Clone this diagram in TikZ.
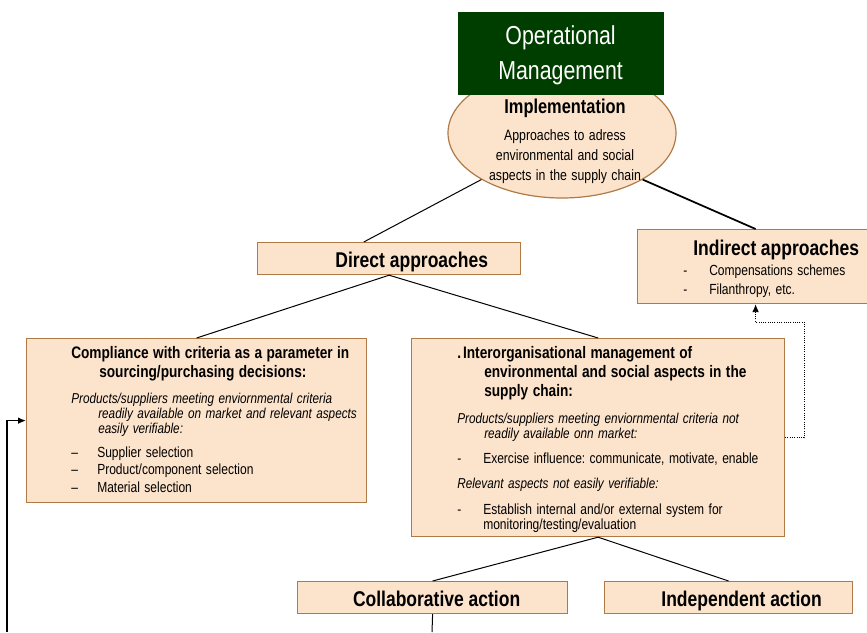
\documentclass[tikz,border=0pt]{standalone}
\usepackage{fontspec}
\setmainfont{Liberation Sans}[FakeStretch=0.82]
\usetikzlibrary{arrows.meta,positioning,shapes.geometric}
\definecolor{peachfill}{RGB}{252,227,203}
\definecolor{peachline}{RGB}{176,122,70}
\definecolor{mgmtgreen}{RGB}{0,62,0}
\newcommand\headfont{\fontsize{12.5}{14.25}\selectfont\bfseries}
\newcommand\italfont{\fontsize{10.75}{11.25}\selectfont\itshape}
\newcommand\itemfont{\fontsize{11}{13}\selectfont}
\newcommand\dashitem[1]{\makebox[19.5pt][l]{#1}}
\frenchspacing
\begin{document}
\begin{tikzpicture}[
    x=0.75pt, y=-0.75pt,
    box/.style = {draw=peachline, fill=peachfill, line width=0.9pt, inner sep=0pt, anchor=north west},
    oval/.style = {ellipse, draw=peachline, fill=peachfill, line width=0.9pt, inner sep=0pt},
    boxtext/.style = {anchor=base west, inner sep=0pt, text width=300pt, align=left},
    title/.style = {font=\fontsize{16}{19}\selectfont\bfseries, text height=13pt, text depth=0pt},
    link/.style = {line width=0.75pt},
    >={Latex[length=6pt, width=5pt]}
  ]
  \useasboundingbox (0,0) rectangle (867,632);
  \node[oval, minimum width=171pt, minimum height=97.5pt] (impl) at (562,133) {};
  \node[box, fill=mgmtgreen, draw=none, minimum width=154.5pt, minimum height=62.25pt, text=white, align=center,
    font=\fontsize{19.5}{26.25}\selectfont] (mgmt) at (457,11) {\rule{0pt}{17pt}Operational\\Management};
  \node[anchor=base, inner sep=0pt, text width=170pt, align=center] (impltext) at (565,113)
    {{\fontsize{15}{18}\selectfont\bfseries Implementation\par}\vspace{5.25pt}{\fontsize{11.25}{15}\selectfont
    Approaches to adress\\environmental and social\\aspects in the supply chain\par}};
  \node[box, title, minimum width=197.25pt, minimum height=24pt] (direct) at (257,242) {\hspace*{34pt}Direct approaches};
  \node[box, minimum width=177pt, minimum height=55.5pt] (indirect) at (637,229) {};
  \node[boxtext] (indirecttext) at (683,255)
    {{\fontsize{16}{19}\selectfont\bfseries\hspace*{7.5pt}Indirect approaches\par}\vspace{0.75pt}{\fontsize{11}{14.25}\selectfont
    \dashitem{-}Compensations schemes\\\dashitem{-}Filanthropy, etc.\par}};
  \node[box, minimum width=255pt, minimum height=123pt] (comply) at (26,338) {};
  \node[boxtext] (complytext) at (71,358)
    {{\headfont Compliance with criteria as a parameter in\\\hspace*{21pt}sourcing/purchasing decisions:\par}
    \vspace{8.25pt}{\italfont Products/suppliers meeting enviornmental criteria\\\hspace*{20.25pt}readily available on market and relevant aspects\\\hspace*{20.25pt}easily verifiable:\par}
    \vspace{5pt}{\itemfont\dashitem{--}Supplier selection\\\dashitem{--}Product/component selection\\[0.5pt]\dashitem{--}Material selection\par}};
  \node[box, minimum width=279.75pt, minimum height=148.5pt] (interorg) at (411,338) {};
  \node[boxtext] (interorgtext) at (457,358)
    {{\headfont .\hspace{1.5pt}Interorganisational management of\\\hspace*{20.25pt}environmental and social aspects in the\\\hspace*{20.25pt}supply chain:\par}
    \vspace{9pt}{\italfont Products/suppliers meeting enviornmental criteria not\\\hspace*{20.25pt}readily available onn market:\par}
    \vspace{5.75pt}{\itemfont\dashitem{-}Exercise influence: communicate, motivate, enable\par}
    \vspace{7.5pt}{\italfont Relevant aspects not easily verifiable:\par}
    \vspace{6.5pt}{\itemfont\dashitem{-}Establish internal and/or external system for\\[-1.75pt]\hspace*{19.5pt}monitoring/testing/evaluation\par}};
  \node[box, title, minimum width=202.5pt, minimum height=24pt] (collab) at (297,581) {\hspace*{6pt}Collaborative action};
  \node[box, title, minimum width=186pt, minimum height=24pt] (indep) at (604,581) {\hspace*{19.5pt}Independent action};
  \draw[link] (impl.210) -- ([xshift=-19pt]direct.north);
  \draw[link, line width=1.3pt] (impl.330) -- (indirect.north);
  \draw[link] (direct.south) -- (comply.north);
  \draw[link] (direct.south) -- (interorg.north);
  \draw[link] (interorg.south) -- (collab.north);
  \draw[link] (interorg.south) -- (indep.north);
  \coordinate (collabout) at (432,632);
  \draw[link] (collab.south) -- (collabout);
  \coordinate (feedback) at (7,632);
  \draw[->, line width=1pt] (feedback) |- (comply.west);
  \draw[->, densely dotted, line width=0.7pt] (interorg.east) -- ++(19,0) |- ([yshift=-13.5pt]indirect.south) -- (indirect.south);
\end{tikzpicture}
\end{document}
